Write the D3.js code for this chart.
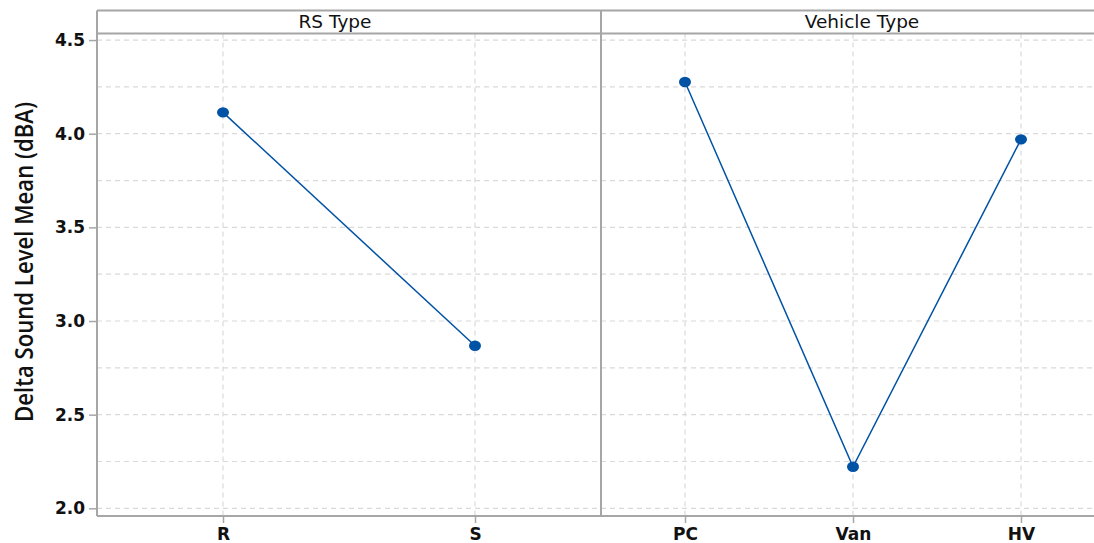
<!DOCTYPE html>
<html>
<head>
<meta charset="utf-8">
<script src="https://cdn.jsdelivr.net/npm/d3@7"></script>
<style>
  html, body { margin: 0; padding: 0; background: #fff; }
  svg { display: block; }
</style>
</head>
<body>
<svg id="chart" width="1094" height="543"></svg>
<script>
// ---- Data ----
const panelTitles = ["RS Type", "Vehicle Type"];
const rsCategories = ["R", "S"];
const rsMeans = [4.114, 2.868];
const vehicleCategories = ["PC", "Van", "HV"];
const vehicleMeans = [4.276, 2.222, 3.970];
const yTicks = [2.0, 2.5, 3.0, 3.5, 4.0, 4.5];
const yGrid = [2.0, 2.25, 2.5, 2.75, 3.0, 3.25, 3.5, 3.75, 4.0, 4.25, 4.5];
const yLabel = "Delta Sound Level Mean (dBA)";

// ---- Layout ----
const svg = d3.select("#chart");
const W = 1094, H = 543;
const borderTop = 10.5, stripBottom = 33.5, plotBottom = 516;
const leftX = 97, panelW = 504;
const lineColor = "#0052a5";
const frameColor = "#a6a6a6";
const gridColor = "#dadada";
const fontTicks = "'DejaVu Sans', 'Open Sans', sans-serif";

const y = d3.scaleLinear().domain([1.959, 4.535]).range([plotBottom, stripBottom]);

const panels = [
  { title: panelTitles[0], cats: rsCategories, vals: rsMeans, x0: leftX, titleShift: -14 },
  { title: panelTitles[1], cats: vehicleCategories, vals: vehicleMeans, x0: leftX + panelW, titleShift: 9 }
];

// Horizontal grid lines across both panels
svg.append("g").selectAll("line").data(yGrid).join("line")
  .attr("x1", leftX).attr("x2", W)
  .attr("y1", d => y(d)).attr("y2", d => y(d))
  .attr("stroke", gridColor).attr("stroke-width", 1.2)
  .attr("stroke-dasharray", "5,4");

panels.forEach(p => {
  const x = d3.scalePoint().domain(p.cats).range([p.x0, p.x0 + panelW]).padding(0.5);
  // vertical grid
  svg.append("g").selectAll("line").data(p.cats).join("line")
    .attr("x1", d => x(d)).attr("x2", d => x(d))
    .attr("y1", stripBottom).attr("y2", plotBottom)
    .attr("stroke", gridColor).attr("stroke-width", 1.2)
    .attr("stroke-dasharray", "5,4");

  // x axis
  const ax = svg.append("g")
    .attr("transform", `translate(0,${plotBottom})`)
    .call(d3.axisBottom(x).tickSize(7));
  ax.select(".domain").remove();
  ax.selectAll(".tick line").attr("stroke", frameColor).attr("stroke-width", 1.5);
  ax.selectAll(".tick text")
    .attr("y", 23.5).attr("dy", null)
    .attr("font-family", fontTicks).attr("font-weight", "bold")
    .attr("font-size", 17).attr("fill", "#111");

  // strip title
  svg.append("text")
    .attr("x", p.x0 + panelW / 2 + p.titleShift).attr("y", 28)
    .attr("text-anchor", "middle")
    .attr("font-family", fontTicks).attr("font-size", 18.5)
    .attr("fill", "#111")
    .text(p.title);

  // line + points
  const pts = p.cats.map((c, i) => [x(c), y(p.vals[i])]);
  svg.append("path")
    .attr("d", d3.line()(pts))
    .attr("fill", "none").attr("stroke", lineColor).attr("stroke-width", 1.5);
  svg.append("g").selectAll("ellipse").data(p.cats).join("ellipse")
    .attr("cx", d => x(d)).attr("cy", (d, i) => y(p.vals[i]))
    .attr("rx", 6).attr("ry", 5.2)
    .attr("fill", lineColor);
});

// y axis
const ay = svg.append("g")
  .attr("transform", `translate(${leftX},0)`)
  .call(d3.axisLeft(y).tickValues(yTicks).tickFormat(d3.format(".1f")).tickSize(8).tickPadding(4));
ay.select(".domain").remove();
ay.selectAll(".tick line").attr("stroke", frameColor).attr("stroke-width", 1.5);
ay.selectAll(".tick text")
  .attr("font-family", fontTicks).attr("font-weight", "bold")
  .attr("font-size", 17).attr("fill", "#111");

// frame lines
const frame = svg.append("g").attr("stroke", frameColor).attr("stroke-width", 2).attr("fill", "none");
frame.append("line").attr("x1", leftX).attr("x2", W).attr("y1", borderTop).attr("y2", borderTop);
frame.append("line").attr("x1", leftX).attr("x2", W).attr("y1", stripBottom).attr("y2", stripBottom);
frame.append("line").attr("x1", leftX).attr("x2", W).attr("y1", plotBottom).attr("y2", plotBottom);
frame.append("line").attr("x1", leftX).attr("x2", leftX).attr("y1", borderTop).attr("y2", plotBottom);
frame.append("line").attr("x1", leftX + panelW).attr("x2", leftX + panelW).attr("y1", borderTop).attr("y2", plotBottom);

// y label
svg.append("text")
  .attr("transform", `translate(32.5,262) rotate(-90)`)
  .attr("text-anchor", "middle")
  .attr("font-family", "'Open Sans', 'Noto Sans', sans-serif").attr("font-size", 26)
  .attr("font-weight", 600)
  .attr("textLength", 320).attr("lengthAdjust", "spacingAndGlyphs")
  .attr("fill", "#111")
  .text(yLabel);
</script>
</body>
</html>
